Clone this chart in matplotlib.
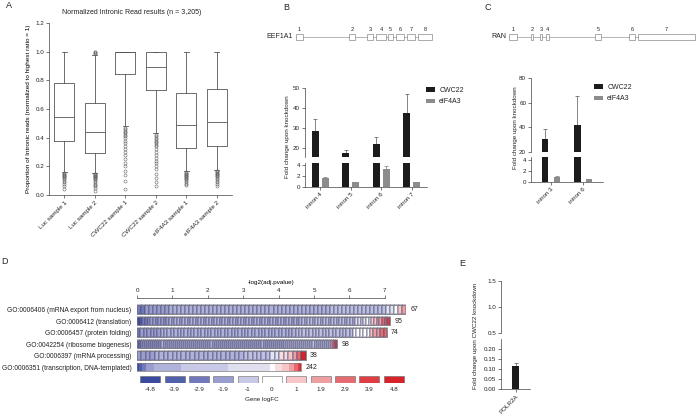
import numpy as np
import matplotlib as mpl
mpl.use('Agg')
import matplotlib.pyplot as plt
from matplotlib.colors import LinearSegmentedColormap, Normalize
from matplotlib.patches import Rectangle, Patch

mpl.rcParams['font.family'] = ['Liberation Sans', 'DejaVu Sans']
mpl.rcParams['font.size'] = 4.5
mpl.rcParams['axes.linewidth'] = 0.5
mpl.rcParams['axes.edgecolor'] = '#444444'
mpl.rcParams['text.color'] = '#222222'
mpl.rcParams['xtick.color'] = '#444444'
mpl.rcParams['ytick.color'] = '#444444'
mpl.rcParams['xtick.labelcolor'] = '#222222'
mpl.rcParams['ytick.labelcolor'] = '#222222'
mpl.rcParams['xtick.major.size'] = 2
mpl.rcParams['ytick.major.size'] = 2
mpl.rcParams['xtick.major.width'] = 0.5
mpl.rcParams['ytick.major.width'] = 0.5
mpl.rcParams['xtick.major.pad'] = 1.5
mpl.rcParams['ytick.major.pad'] = 1.5

W, H = 696, 416

# ---------------- data ----------------
# A: Tukey box plots
a_labels = ['Luc sample 1', 'Luc sample 2', 'CWC22 sample 1', 'CWC22 sample 2',
            'eIF4A3 sample 1', 'eIF4A3 sample 2']
a_whislo = [0.16, 0.155, 0.48, 0.43, 0.165, 0.175]
a_q1 = [0.38, 0.29, 0.845, 0.73, 0.325, 0.345]
a_med = [0.545, 0.44, 1.0, 0.895, 0.485, 0.51]
a_q3 = [0.78, 0.64, 1.0, 1.0, 0.715, 0.74]
a_whishi = [1.0, 0.98, 1.0, 1.0, 1.0, 1.0]
a_fliers = [
    [0.155, 0.15, 0.145, 0.14, 0.135, 0.13, 0.125, 0.12, 0.11, 0.10, 0.09, 0.08, 0.06, 0.04],
    [0.15, 0.147, 0.144, 0.14, 0.136, 0.132, 0.128, 0.124, 0.12, 0.115, 0.11, 0.10, 0.09,
     0.08, 0.07, 0.06, 0.05, 0.03, 0.985, 0.99, 0.995, 1.0],
    [0.47, 0.46, 0.45, 0.44, 0.43, 0.42, 0.41, 0.40, 0.38, 0.36, 0.34, 0.32, 0.30, 0.28,
     0.25, 0.22, 0.20, 0.17, 0.14, 0.10, 0.04],
    [0.42, 0.41, 0.40, 0.39, 0.38, 0.37, 0.36, 0.35, 0.34, 0.32, 0.30, 0.28, 0.26, 0.24,
     0.22, 0.20, 0.18, 0.15, 0.12, 0.09, 0.06],
    [0.16, 0.155, 0.15, 0.145, 0.14, 0.135, 0.13, 0.125, 0.12, 0.115, 0.11, 0.10, 0.09, 0.08, 0.07],
    [0.17, 0.165, 0.16, 0.155, 0.15, 0.145, 0.14, 0.135, 0.13, 0.12, 0.11, 0.10, 0.09, 0.08, 0.06],
]

# B: EEF1A1 introns
b_introns = ['intron 4', 'intron 5', 'intron 6', 'intron 7']
b_cwc22 = [28.5, 17.5, 22.0, 37.5]
b_cwc22_err = [5.8, 1.5, 3.3, 9.5]
b_eif4a3 = [1.7, 0.9, 3.3, 0.9]
b_eif4a3_err = [0.2, 0.1, 0.5, 0.1]
eef1a1_starts = [0, 53, 71, 80, 92, 100, 111, 122]
eef1a1_ends = [7, 59, 77, 90, 97, 108, 119, 136]

# C: RAN introns
c_introns = ['intron 3', 'intron 6']
c_cwc22 = [30.5, 42.0]
c_cwc22_err = [8.0, 23.0]
c_eif4a3 = [0.9, 0.5]
c_eif4a3_err = [0.1, 0.1]
ran_starts = [0, 22, 31, 37, 86, 120, 129]
ran_ends = [8, 24, 33, 40, 92, 126, 186]

# D: GO terms
go_terms = ['GO:0006406 (mRNA export from nucleus)', 'GO:0006412 (translation)',
            'GO:0006457 (protein folding)', 'GO:0042254 (ribosome biogenesis)',
            'GO:0006397 (mRNA processing)', 'GO:0006351 (transcription, DNA-templated)']
go_score = [7.6, 7.15, 7.06, 5.65, 4.77, 4.63]
go_genes = [67, 95, 74, 98, 38, 242]
# gene logFC per term (value, number of genes), sorted
go_fc_values = [
    [-2.9, -1.9, -1.5, -1.2, -0.5, 0, 1, 1.9],
    [-4.8, -3.9, -2.9, -1.9, -1.5, -1.2, -0.5, 0, 1, 1.9, 2.9, 3.9],
    [-2.9, -1.9, -1.5, -1.2, 0, 1, 1.9, 2.9],
    [-2.9, -1.9, -1.5, -1.2, 1.9, 2.9, 3.9],
    [-1.9, -1.5, -1.2, -0.5, 0.6, 1, 1.9, 2.9, 4.8],
    [-4.8, -3.9, -2.9, -1.9, -1.5, -1, -0.6, 0, 0.6, 1, 1.9, 2.9, 3.9, 4.8],
]
go_fc_counts = [
    [2, 6, 40, 14, 2, 1, 1, 1],
    [1, 1, 2, 8, 50, 20, 4, 2, 2, 2, 2, 1],
    [1, 6, 40, 17, 5, 1, 2, 2],
    [2, 10, 60, 23, 1, 1, 1],
    [4, 20, 6, 2, 2, 1, 1, 1, 1],
    [3, 4, 6, 12, 40, 70, 61, 8, 10, 10, 8, 6, 3, 1],
]
fc_levels = [-4.8, -3.9, -2.9, -1.9, -1, 0, 1, 1.9, 2.9, 3.9, 4.8]
fc_colors = ['#3b4a9f', '#5160aa', '#7279bb', '#9a9ecf', '#c8c9e6', '#ffffff',
             '#f6c6c8', '#ef9ea1', '#e66b70', '#df3c43', '#d9232b']

# E: POLR2A
e_genes = ['POLR2A']
e_cwc22 = [0.115]
e_cwc22_err = [0.013]

BLACK = '#1c1c1c'
GREY = '#8c8c8c'

fig = plt.figure(figsize=(W / 100, H / 100), dpi=100)


def pax(x0, y0, x1, y1):
    return fig.add_axes([x0 / W, 1 - y1 / H, (x1 - x0) / W, (y1 - y0) / H])


def ftext(x, y, s, **kw):
    return fig.text(x / W, 1 - y / H, s, **kw)


def clean(ax, bottom=True):
    ax.spines['top'].set_visible(False)
    ax.spines['right'].set_visible(False)
    ax.spines['bottom'].set_visible(bottom)
    if not bottom:
        ax.tick_params(axis='x', bottom=False, labelbottom=False)


# ---------------- A ----------------
ax = pax(49, 23, 232, 195)
stats = []
for i in range(len(a_labels)):
    stats.append(dict(med=a_med[i], q1=a_q1[i], q3=a_q3[i], whislo=a_whislo[i],
                      whishi=a_whishi[i], fliers=a_fliers[i]))
lp = dict(color='#555555', linewidth=0.6)
ax.bxp(stats, positions=np.arange(1, 7), widths=0.65, showcaps=True, capwidths=0.15,
       boxprops=lp, medianprops=lp, whiskerprops=lp, capprops=lp,
       flierprops=dict(marker='o', markersize=2.2, markerfacecolor='none',
                       markeredgecolor='#666666', markeredgewidth=0.4))
ax.set_xlim(0.5, 6.5)
ax.set_ylim(0, 1.2)
ax.set_yticks(np.arange(0, 1.21, 0.2))
ax.set_yticklabels([f'{v:.1f}' for v in np.arange(0, 1.21, 0.2)])
ax.set_xticks(np.arange(1, 7))
ax.set_xticklabels(a_labels, rotation=45, ha='right', rotation_mode='anchor')
clean(ax)
ax.set_ylabel('Proportion of Intronic reads (normalized to highest ratio = 1)', fontsize=4.6, labelpad=3)
ftext(132, 13, 'Normalized Intronic Read results (n = 3,205)', ha='center', va='center', fontsize=5)
ftext(9, 6, 'A', ha='center', va='center', fontsize=6.5)


# ---------------- gene diagrams ----------------
def gene(x0, x1, starts, ends, name):
    g = pax(x0, 34, x1, 40)
    g.plot([starts[0], ends[-1]], [0, 0], color='#999999', lw=0.5, zorder=1)
    for k, (s, e) in enumerate(zip(starts, ends)):
        g.add_patch(Rectangle((s, -1), e - s, 2, facecolor='white', edgecolor='#888888',
                              lw=0.5, zorder=2, clip_on=False))
        g.text((s + e) / 2, 1.7, str(k + 1), ha='center', va='bottom', fontsize=4)
    g.text(-3, 0, name, ha='right', va='center', fontsize=5)
    g.set_xlim(0, ends[-1])
    g.set_ylim(-1, 1)
    g.axis('off')


gene(296, 432, eef1a1_starts, eef1a1_ends, 'EEF1A1')
gene(509, 695, ran_starts, ran_ends, 'RAN')


# ---------------- broken bar charts ----------------
def broken_bars(x0, x1, up, lo, up_lim, lo_lim, up_ticks, lo_ticks, names,
                cwc, cwc_err, eif, eif_err, off, bw, xlim):
    xs = np.arange(len(names))
    axes = [pax(x0, up[0], x1, up[1]), pax(x0, lo[0], x1, lo[1])]
    for k, a in enumerate(axes):
        a.bar(xs - off, cwc, bw, color=BLACK, zorder=2)
        a.bar(xs + off, eif, bw, color=GREY, zorder=2)
        a.errorbar(xs - off, cwc, yerr=[[0] * len(xs), cwc_err], fmt='none', ecolor='#555555',
                   elinewidth=0.5, capsize=1.5, capthick=0.5, zorder=1)
        a.errorbar(xs + off, eif, yerr=[[0] * len(xs), eif_err], fmt='none', ecolor='#777777',
                   elinewidth=0.5, capsize=1.5, capthick=0.5, zorder=1)
        a.set_xlim(*xlim)
        clean(a, bottom=(k == 1))
    axes[0].set_ylim(*up_lim)
    axes[0].set_yticks(up_ticks)
    axes[1].set_ylim(*lo_lim)
    axes[1].set_yticks(lo_ticks)
    axes[1].set_xticks(xs)
    axes[1].set_xticklabels(names, rotation=45, ha='right', rotation_mode='anchor')
    return axes


broken_bars(305, 427, (88, 157), (163, 187), (15.5, 50), (0, 4.4), [20, 30, 40, 50], [0, 2, 4],
            b_introns, b_cwc22, b_cwc22_err, b_eif4a3, b_eif4a3_err, 0.165, 0.23, (-0.5, 3.5))
broken_bars(531, 603, (78, 152), (157, 182), (20, 80), (0, 4.5), [20, 40, 60, 80], [0, 2, 4],
            c_introns, c_cwc22, c_cwc22_err, c_eif4a3, c_eif4a3_err, 0.18, 0.2, (-0.62, 1.62))

ftext(287, 137, 'Fold change upon knockdown', rotation=90, ha='center', va='center', fontsize=4.5)
ftext(516, 128, 'Fold change upon knockdown', rotation=90, ha='center', va='center', fontsize=4.5)
ftext(286, 8, 'B', ha='center', va='center', fontsize=6.5)
ftext(488, 8, 'C', ha='center', va='center', fontsize=6.5)

handles = [Patch(facecolor=BLACK), Patch(facecolor=GREY)]
for lx, ly in [(426, 87), (594, 84)]:
    fig.legend(handles, ['CWC22', 'eIF4A3'], loc='upper left',
               bbox_to_anchor=(lx / W, 1 - ly / H), frameon=False, fontsize=5,
               handlelength=1.3, handleheight=0.6, handletextpad=0.6, labelspacing=0.6,
               borderpad=0, borderaxespad=0)

# ---------------- D ----------------
cmap = LinearSegmentedColormap.from_list(
    'fc', [((v + 4.8) / 9.6, c) for v, c in zip(fc_levels, fc_colors)])
norm = Normalize(-4.8, 4.8)

ax = pax(137, 298, 406, 373)
for r in range(len(go_terms)):
    vals = np.repeat(go_fc_values[r], go_fc_counts[r])
    edges = np.linspace(0, go_score[r], len(vals) + 1)
    lw = 0.3 if len(vals) < 150 else 0
    ax.pcolormesh(edges, [r - 0.36, r + 0.36], vals[None, :], cmap=cmap, norm=norm,
                  edgecolors=(0.3, 0.3, 0.45, 0.35), linewidth=lw)
    ax.add_patch(Rectangle((0, r - 0.36), go_score[r], 0.72, facecolor='none',
                           edgecolor='#777777', lw=0.5))
    ax.text(go_score[r] + 0.12, r, str(go_genes[r]), va='center', ha='left', fontsize=5)
ax.set_xlim(0, 7.6)
ax.set_ylim(5.52, -1.0)
ax.set_yticks(range(len(go_terms)))
ax.set_yticklabels(go_terms, fontsize=4.8)
ax.tick_params(axis='y', length=0, pad=4)
ax.xaxis.tick_top()
ax.xaxis.set_label_position('top')
ax.set_xticks(range(8))
ax.set_xlabel('-log2(adj.pvalue)', fontsize=4.5, labelpad=3)
for s in ['bottom', 'left', 'right']:
    ax.spines[s].set_visible(False)
ax.spines['top'].set_bounds(0, 7)
ftext(4, 262, 'D', ha='center', va='center', fontsize=6.5)

lg = pax(138, 376, 406, 383)
lg.bar(range(len(fc_levels)), 1, width=0.82, color=fc_colors,
       edgecolor='#666666', lw=0.4)
lg.set_xlim(-0.5, len(fc_levels) - 0.5)
lg.set_ylim(0, 1)
lg.set_xticks(range(len(fc_levels)))
lg.set_xticklabels([f'{v:g}' for v in fc_levels], fontsize=4.5)
lg.tick_params(axis='x', length=0, pad=3)
lg.set_yticks([])
for s in lg.spines.values():
    s.set_visible(False)
ftext(262, 399, 'Gene logFC', ha='center', va='center', fontsize=4.5)

# ---------------- E ----------------
xs = np.arange(len(e_genes))
eu = pax(501, 281, 530, 333)
el = pax(501, 339, 530, 389)
for k, a in enumerate([eu, el]):
    a.bar(xs, e_cwc22, 0.24, color=BLACK, zorder=2)
    a.errorbar(xs, e_cwc22, yerr=[[0] * len(xs), e_cwc22_err], fmt='none', ecolor='#555555',
               elinewidth=0.5, capsize=1.5, capthick=0.5, zorder=1)
    a.set_xlim(-0.5, 0.5)
    clean(a, bottom=(k == 1))
eu.set_ylim(0.5, 1.5)
eu.set_yticks([0.5, 1.0, 1.5])
eu.set_yticklabels(['0.5', '1.0', '1.5'])
el.set_ylim(0, 0.25)
el.set_yticks([0, 0.05, 0.10, 0.15, 0.20])
el.set_yticklabels(['0.00', '0.05', '0.10', '0.15', '0.20'])
el.set_xticks(xs)
el.set_xticklabels(e_genes, rotation=45, ha='right', rotation_mode='anchor')
ftext(475, 336, 'Fold change upon CWC22 knockdown', rotation=90, ha='center', va='center', fontsize=4.5)
ftext(462, 264, 'E', ha='center', va='center', fontsize=6.5)

fig.savefig('out.png', dpi=100)
